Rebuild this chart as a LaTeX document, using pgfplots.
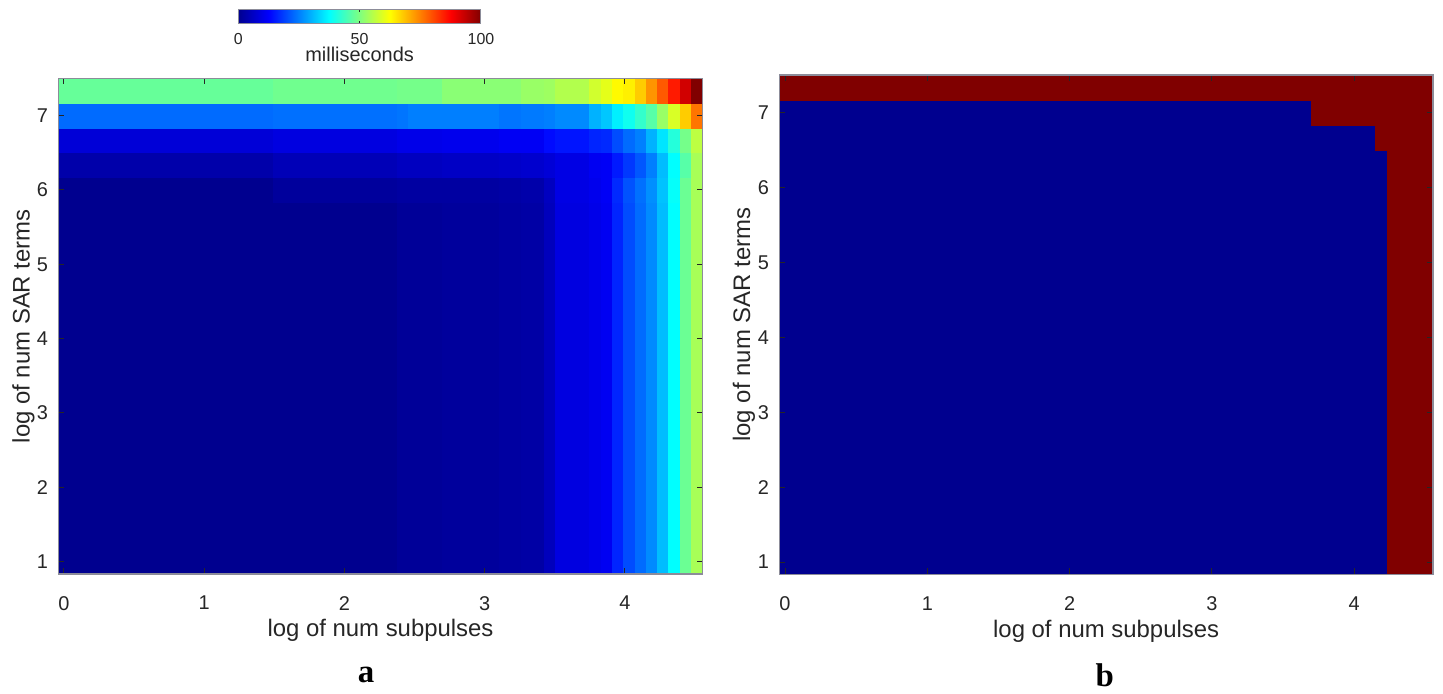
\documentclass[border=0pt]{standalone}
\usepackage{pgfplots}
\pgfplotsset{compat=1.18}
\usepackage{fontspec}
\setmainfont{Liberation Sans}
\newfontfamily\serifbold{Liberation Serif}
\definecolor{txt}{rgb}{0.15,0.15,0.15}
\definecolor{frame}{rgb}{0.55,0.55,0.6}
\pgfplotsset{
  colormap={mjet}{rgb255(0cm)=(0,0,143) rgb255(1cm)=(0,0,255) rgb255(3cm)=(0,255,255) rgb255(5cm)=(255,255,0) rgb255(7cm)=(255,0,0) rgb255(8cm)=(128,0,0)},
  mystyle/.style={
    scale only axis, anchor=south west,
    xmin=-0.04, xmax=4.554, ymin=0.8333, ymax=7.5,
    xtick={0,1,2,3,4}, ytick={1,2,3,4,5,6,7},
    axis on top, clip=false,
    axis line style={frame, line width=0.6bp},
    major tick style={txt, line width=0.5bp},
    major tick length=3bp,
    tick label style={font=\fontsize{10}{12}\selectfont, text=txt},
    /pgf/number format/assume math mode=true,
    xticklabel shift=7.6bp,
    yticklabel shift=1.6bp,
    label style={font=\fontsize{12}{14}\selectfont, text=txt},
    xlabel style={at={(axis description cs:0.5,-0.113)}, anchor=center},
    ylabel style={at={(axis description cs:-0.054,0.5)}, anchor=center},
    xlabel={log of num subpulses}, ylabel={log of num SAR terms},
    colormap name=mjet,
  },
}
\begin{document}
\begin{tikzpicture}
\path (0,0) rectangle (721.5bp,-345.5bp);
% ---------------- panel a ----------------
\begin{axis}[mystyle,
  at={(29.15bp,-287bp)}, width=322.2bp, height=247.75bp,
  point meta min=0, point meta max=100,
  colorbar horizontal,
  colorbar style={
    at={(parent axis.north)}, anchor=south, xshift=-10.45bp, yshift=36bp,
    scale only axis, width=121.35bp, height=7bp,
    xtick={0,50,100}, ytick=\empty,
    /pgf/number format/assume math mode=true,
    xticklabel shift=1.5bp, yticklabel shift=0bp,
    xticklabel style={font=\fontsize{8}{9}\selectfont, text=txt},
    major tick length=1.5bp,
    axis line style={frame, line width=0.5bp},
    xlabel={milliseconds}, ylabel={},
    xlabel style={font=\fontsize{10}{12}\selectfont, text=txt, at={(axis description cs:0.5,-2.2)}, anchor=center},
  },
]
\addplot[surf, shader=flat corner, mesh/cols=20, point meta=explicit] table[meta=c] {
x y c
-0.04 0.8333 0
1.491 0.8333 0
2.378 0.8333 1
2.459 0.8333 1
2.700 0.8333 1.5
3.103 0.8333 2
3.265 0.8333 2.5
3.426 0.8333 5
3.506 0.8333 9
3.748 0.8333 10
3.829 0.8333 11
3.909 0.8333 16
3.990 0.8333 20
4.071 0.8333 23
4.151 0.8333 26
4.232 0.8333 31
4.312 0.8333 37.5
4.393 0.8333 48
4.474 0.8333 54
4.554 0.8333 54
-0.04 5.8333 0
1.491 5.8333 1.5
2.378 5.8333 2
2.459 5.8333 2
2.700 5.8333 2
3.103 5.8333 2.5
3.265 5.8333 3
3.426 5.8333 5.5
3.506 5.8333 9.5
3.748 5.8333 10.5
3.829 5.8333 11.5
3.909 5.8333 16.5
3.990 5.8333 20.5
4.071 5.8333 23.5
4.151 5.8333 26.5
4.232 5.8333 31.5
4.312 5.8333 38
4.393 5.8333 48
4.474 5.8333 54
4.554 5.8333 54
-0.04 6.1667 3
1.491 6.1667 4.5
2.378 6.1667 5.5
2.459 6.1667 5.5
2.700 6.1667 6
3.103 6.1667 6.5
3.265 6.1667 7
3.426 6.1667 8
3.506 6.1667 9.5
3.748 6.1667 11
3.829 6.1667 11.5
3.909 6.1667 15
3.990 6.1667 18
4.071 6.1667 21
4.151 6.1667 25
4.232 6.1667 31
4.312 6.1667 37.5
4.393 6.1667 46
4.474 6.1667 54
4.554 6.1667 54
-0.04 6.5 8
1.491 6.5 9
2.378 6.5 10
2.459 6.5 10
2.700 6.5 10.5
3.103 6.5 11.25
3.265 6.5 11.25
3.426 6.5 13.5
3.506 6.5 14.5
3.748 6.5 16
3.829 6.5 16.5
3.909 6.5 20
3.990 6.5 23
4.071 6.5 25
4.151 6.5 30
4.232 6.5 35
4.312 6.5 41
4.393 6.5 49
4.474 6.5 56
4.554 6.5 56
-0.04 6.8333 23
1.491 6.8333 23.5
2.378 6.8333 24
2.459 6.8333 25
2.700 6.8333 25
3.103 6.8333 24
3.265 6.8333 24.5
3.426 6.8333 25
3.506 6.8333 26
3.748 6.8333 30
3.829 6.8333 32
3.909 6.8333 36
3.990 6.8333 39
4.071 6.8333 42.5
4.151 6.8333 46
4.232 6.8333 52.5
4.312 6.8333 58.75
4.393 6.8333 67.5
4.474 6.8333 76
4.554 6.8333 76
-0.04 7.1667 47.5
1.491 7.1667 48.5
2.378 7.1667 49
2.459 7.1667 49
2.700 7.1667 51
3.103 7.1667 51
3.265 7.1667 52.5
3.426 7.1667 53
3.506 7.1667 55
3.748 7.1667 58
3.829 7.1667 60
3.909 7.1667 63
3.990 7.1667 64
4.071 7.1667 67.5
4.151 7.1667 73
4.232 7.1667 78.75
4.312 7.1667 85
4.393 7.1667 92
4.474 7.1667 100
4.554 7.1667 100
-0.04 7.5 47.5
1.491 7.5 48.5
2.378 7.5 49
2.459 7.5 49
2.700 7.5 51
3.103 7.5 51
3.265 7.5 52.5
3.426 7.5 53
3.506 7.5 55
3.748 7.5 58
3.829 7.5 60
3.909 7.5 63
3.990 7.5 64
4.071 7.5 67.5
4.151 7.5 73
4.232 7.5 78.75
4.312 7.5 85
4.393 7.5 92
4.474 7.5 100
4.554 7.5 100
};
\node[font=\serifbold\bfseries\fontsize{16.5}{18}\selectfont, text=black] at (axis description cs:0.4775,-0.204) {a};
\end{axis}
% ---------------- panel b ----------------
\begin{axis}[mystyle,
  at={(389.65bp,-287.25bp)}, width=326.85bp, height=249.75bp,
  point meta min=0, point meta max=1,
]
\addplot[surf, shader=flat corner, mesh/cols=5, point meta=explicit] table[meta=c] {
x y c
-0.04 0.8333 0
3.70 0.8333 0
4.151 0.8333 0
4.232 0.8333 1
4.554 0.8333 1
-0.04 6.5 0
3.70 6.5 0
4.151 6.5 1
4.232 6.5 1
4.554 6.5 1
-0.04 6.8333 0
3.70 6.8333 1
4.151 6.8333 1
4.232 6.8333 1
4.554 6.8333 1
-0.04 7.1667 1
3.70 7.1667 1
4.151 7.1667 1
4.232 7.1667 1
4.554 7.1667 1
-0.04 7.5 1
3.70 7.5 1
4.151 7.5 1
4.232 7.5 1
4.554 7.5 1
};
\node[font=\serifbold\bfseries\fontsize{16.5}{18}\selectfont, text=black] at (axis description cs:0.498,-0.201) {b};
\end{axis}
\end{tikzpicture}
\end{document}
